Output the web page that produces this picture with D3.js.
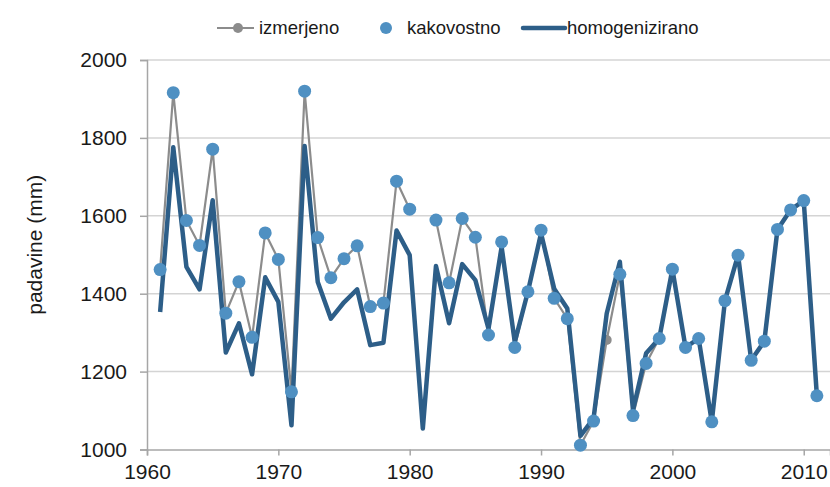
<!DOCTYPE html>
<html>
<head>
<meta charset="utf-8">
<script src="https://cdn.jsdelivr.net/npm/d3@7"></script>
<style>
  body { margin: 0; background: #fff; }
  svg { display: block; font-family: "Liberation Sans", Arial, sans-serif; }
</style>
</head>
<body>
<svg class="svg" width="830" height="487"></svg>
<script>
const years = d3.range(1961, 2012);

// measured (grey line), quality controlled (dots), homogenized (dark line)
const izmerjeno = [
  1462, 1916, 1588, 1524, 1771, 1350, 1431, 1288, 1556, 1488,
  1148, 1920, 1544, 1441, 1490, 1523, 1367, 1376, 1689, 1617,
  null, 1589, 1428, 1593, 1545, 1294, 1533, 1262, 1405, 1563,
  1388, 1336, 1011, 1073, 1281, 1450, 1087, 1221, 1285, 1463,
  1262, 1285, 1071, 1382, 1499, 1229, 1278, 1565, 1615, 1639,
  1138
];
const kakovostno = [
  1462, 1916, 1588, 1524, 1771, 1350, 1431, 1288, 1556, 1488,
  1148, 1920, 1544, 1441, 1490, 1523, 1367, 1376, 1689, 1617,
  null, 1589, 1428, 1593, 1545, 1294, 1533, 1262, 1405, 1563,
  1388, 1336, 1011, 1073, null, 1450, 1087, 1221, 1285, 1463,
  1262, 1285, 1071, 1382, 1499, 1229, 1278, 1565, 1615, 1639,
  1138
];
const homogenizirano = [
  1353, 1776, 1469, 1411, 1640, 1249, 1324, 1193, 1442, 1379,
  1062, 1779, 1430, 1336, 1378, 1411, 1268, 1274, 1562, 1499,
  1054, 1471, 1324, 1476, 1435, 1310, 1520, 1276, 1405, 1555,
  1413, 1362, 1035, 1080, 1349, 1482, 1101, 1247, 1285, 1463,
  1262, 1285, 1071, 1382, 1499, 1229, 1278, 1565, 1615, 1639,
  1138
];
const xTicks = [1960, 1970, 1980, 1990, 2000, 2010];
const yTicks = [1000, 1200, 1400, 1600, 1800, 2000];

const grey = '#8c8c8c';
const light = '#4f90c2';
const dark = '#2d5e88';

const svg = d3.select('.svg');

const x = d3.scaleLinear().domain([1960, 2012]).range([147, 830]);
const y = d3.scaleLinear().domain([1000, 2000]).range([449.5, 60]);

// gridlines
svg.append('g')
  .selectAll('line')
  .data(yTicks.slice(1))
  .join('line')
  .attr('x1', 147)
  .attr('x2', 830)
  .attr('y1', d => y(d))
  .attr('y2', d => y(d))
  .attr('stroke', '#d4d4d4')
  .attr('stroke-width', 1.5);

// axes
const yAxis = svg.append('g')
  .attr('transform', 'translate(147,0)')
  .call(d3.axisLeft(y).tickValues(yTicks).tickSize(7).tickPadding(13).tickFormat(d3.format('d')));
const xAxis = svg.append('g')
  .attr('transform', `translate(0,${y(1000)})`)
  .call(d3.axisBottom(x).tickValues(xTicks).tickSize(6).tickPadding(8).tickFormat(d3.format('d')));

[yAxis, xAxis].forEach(a => {
  a.select('.domain').attr('stroke', '#a6a6a6').attr('stroke-width', 1.5);
  a.selectAll('.tick line').attr('stroke', '#a6a6a6').attr('stroke-width', 1.5);
  a.selectAll('.tick text')
    .attr('fill', '#1a1a1a')
    .style('font-size', '21px')
    .style('font-family', '"Liberation Sans", Arial, sans-serif');
});
xAxis.selectAll('.tick text').attr('dy', '0.72em');

svg.append('text')
  .attr('transform', `translate(42,${(y(1000) + y(2000)) / 2 - 10}) rotate(-90)`)
  .attr('text-anchor', 'middle')
  .attr('fill', '#1a1a1a')
  .style('font-size', '21px')
  .text('padavine (mm)');

const rows = years.map((yr, i) => ({
  yr, iz: izmerjeno[i], ka: kakovostno[i], ho: homogenizirano[i]
}));

// measured
const izLine = d3.line()
  .defined(d => d.iz != null)
  .x(d => x(d.yr))
  .y(d => y(d.iz));
svg.append('path')
  .datum(rows)
  .attr('d', izLine)
  .attr('fill', 'none')
  .attr('stroke', grey)
  .attr('stroke-width', 2.2);
svg.append('g')
  .selectAll('circle')
  .data(rows.filter(d => d.iz != null))
  .join('circle')
  .attr('cx', d => x(d.yr))
  .attr('cy', d => y(d.iz))
  .attr('r', 5)
  .attr('fill', grey);

// homogenized
const hoLine = d3.line()
  .x(d => x(d.yr))
  .y(d => y(d.ho));
svg.append('path')
  .datum(rows)
  .attr('d', hoLine)
  .attr('fill', 'none')
  .attr('stroke', dark)
  .attr('stroke-width', 4.5)
  .attr('stroke-linejoin', 'round');

// quality controlled
svg.append('g')
  .selectAll('circle')
  .data(rows.filter(d => d.ka != null))
  .join('circle')
  .attr('cx', d => x(d.yr))
  .attr('cy', d => y(d.ka))
  .attr('r', 6.5)
  .attr('fill', light);

// legend
const legend = svg.append('g').style('font-size', '18.5px').attr('fill', '#1a1a1a');
const ly = 28;
legend.append('line').attr('x1', 217).attr('x2', 254).attr('y1', ly).attr('y2', ly)
  .attr('stroke', grey).attr('stroke-width', 2.2);
legend.append('circle').attr('cx', 238).attr('cy', ly).attr('r', 5).attr('fill', grey);
legend.append('text').attr('x', 259).attr('y', ly).attr('dy', '0.35em').text('izmerjeno');

legend.append('circle').attr('cx', 386).attr('cy', ly).attr('r', 6).attr('fill', light);
legend.append('text').attr('x', 407).attr('y', ly).attr('dy', '0.35em').text('kakovostno');

legend.append('line').attr('x1', 523).attr('x2', 565).attr('y1', ly).attr('y2', ly)
  .attr('stroke', dark).attr('stroke-width', 4.5).attr('stroke-linecap', 'round');
legend.append('text').attr('x', 567).attr('y', ly).attr('dy', '0.35em').text('homogenizirano');
</script>
</body>
</html>
